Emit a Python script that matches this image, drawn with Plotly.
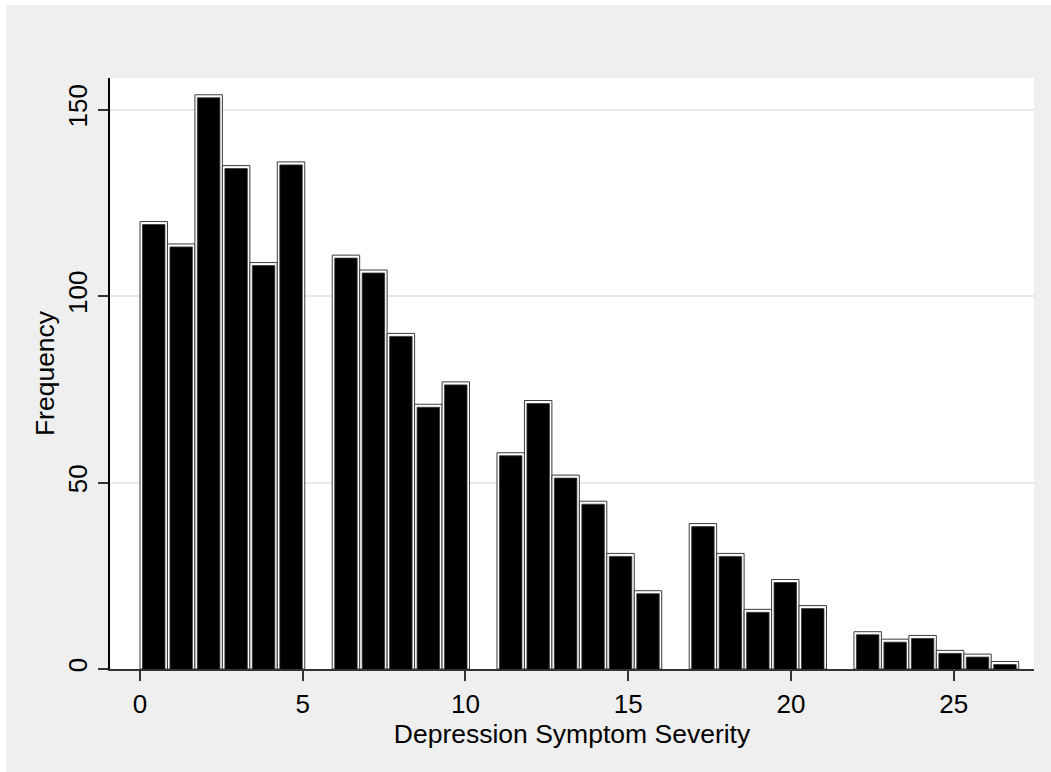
import numpy as np
import plotly.graph_objects as go

# ---- data ----
scores = list(range(28))  # depression symptom severity values
frequency = [120, 114, 154, 135, 109, 136, 111, 107, 90, 71, 77, 58, 72, 52,
             45, 31, 21, 39, 31, 16, 24, 17, 10, 8, 9, 5, 4, 2]
x_ticks = [0, 5, 10, 15, 20, 25]
y_ticks = [0, 50, 100, 150]

# histogram bins (Stata-style: 32 bins over [0, 27])
n_bins = 32
lo, hi = 0.0, 27.0
w = (hi - lo) / n_bins
idx = np.minimum(np.floor((np.array(scores) - lo) / w), n_bins - 1)
centers = lo + (idx + 0.5) * w

FONT = "Liberation Sans, Arial, sans-serif"
x_range = [-0.922, 27.47]
y_range = [0, 158.5]
px_per_x = 924 / (x_range[1] - x_range[0])
px_per_y = 591 / (y_range[1] - y_range[0])
shift = 3.0 / px_per_y

fig = go.Figure()
# outer outline bars
fig.add_trace(go.Bar(x=centers, y=frequency, width=w,
                     marker=dict(color="white", line=dict(color="#3c3c3c", width=1)),
                     hoverinfo="skip", showlegend=False))
# inner black fill bars
fig.add_trace(go.Bar(x=centers, y=frequency, width=w - 5.0 / px_per_x,
                     marker=dict(color="black", line=dict(color="#333", width=0.8)),
                     yaxis="y2", showlegend=False))

fig.update_layout(
    width=1051, height=772,
    margin=dict(l=110, r=17, t=78, b=103),
    paper_bgcolor="#efefef",
    plot_bgcolor="white",
    barmode="overlay",
    font=dict(family=FONT, size=26, color="black"),
    xaxis=dict(range=x_range, tickvals=x_ticks, ticks="outside", ticklen=10,
               tickwidth=1.5, tickcolor="#333", showline=True, linecolor="#333",
               linewidth=2, showgrid=False, zeroline=False,
               tickfont=dict(size=26), ticklabelstandoff=1,
               title=dict(text="Depression Symptom Severity", standoff=0,
                          font=dict(size=26.5))),
    yaxis=dict(range=y_range, tickvals=y_ticks, ticks="outside", ticklen=10,
               tickwidth=1.5, tickcolor="#333", showline=True, linecolor="black",
               linewidth=2, showgrid=True, gridcolor="#e8e8e8", gridwidth=2,
               zeroline=False, tickangle=-90, tickfont=dict(size=26),
               ticklabelstandoff=1,
               title=dict(text="Frequency", standoff=0, font=dict(size=26.5))),
    yaxis2=dict(range=[y_range[0] + shift, y_range[1] + shift], overlaying="y",
                visible=False, showgrid=False, zeroline=False),
    shapes=[
        dict(type="rect", xref="paper", yref="paper", layer="below",
             x0=-1, x1=-104 / 924, y0=-1, y1=2, fillcolor="white", line_width=0),
        dict(type="rect", xref="paper", yref="paper", layer="below",
             x0=-1, x1=2, y0=1 + 73 / 591, y1=2, fillcolor="white", line_width=0),
    ],
)

fig.write_html("out.html")
